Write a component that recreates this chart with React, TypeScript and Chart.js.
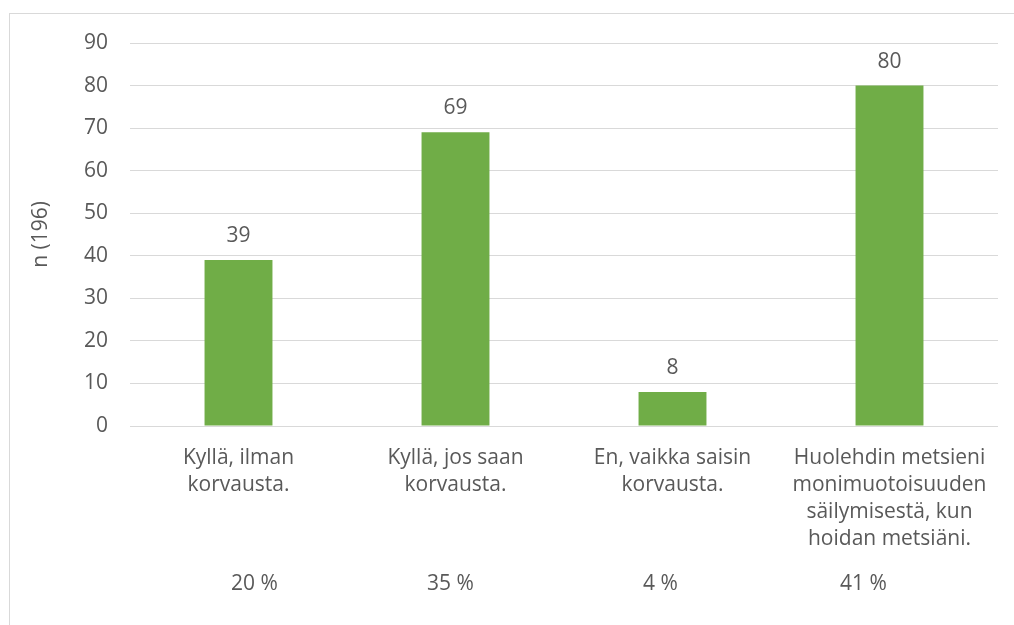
import React, { useEffect, useRef } from "react";
import { Chart, registerables } from "chart.js";

Chart.register(...registerables);

const categories: string[][] = [
  ["Kyllä, ilman", "korvausta."],
  ["Kyllä, jos saan", "korvausta."],
  ["En, vaikka saisin", "korvausta."],
  ["Huolehdin metsieni", "monimuotoisuuden", "säilymisestä, kun", "hoidan metsiäni."],
];
const counts: number[] = [39, 69, 8, 80];
const percentLabels: string[] = ["20 %", "35 %", "4 %", "41 %"];
const yTitle = "n (196)";

const TEXT = "#595959";
const FONT = "'Open Sans', sans-serif";
const FS = 21;

export default function App() {
  const ref = useRef<HTMLCanvasElement | null>(null);

  useEffect(() => {
    if (!ref.current) return;
    const pctOffsets = [16, -5, -12, -26];
    const labelPlugin = {
      id: "labels",
      afterDatasetsDraw(chart: any) {
        const ctx = chart.ctx;
        const meta = chart.getDatasetMeta(0);
        ctx.save();
        ctx.fillStyle = TEXT;
        ctx.font = `${FS}px ${FONT}`;
        ctx.textAlign = "center";
        ctx.textBaseline = "middle";
        meta.data.forEach((bar: any, i: number) => {
          ctx.fillText(String(counts[i]), bar.x, bar.y - 24);
        });
        const xs = chart.scales.x;
        percentLabels.forEach((p, i) => {
          ctx.fillText(p, xs.getPixelForValue(i) + pctOffsets[i], chart.chartArea.bottom + 158);
        });
        ctx.restore();
      },
    };

    const chart = new Chart(ref.current, {
      type: "bar",
      data: {
        labels: categories as any,
        datasets: [
          {
            data: counts,
            backgroundColor: "#70ad47",
            barPercentage: 0.313,
            categoryPercentage: 1,
          },
        ],
      },
      options: {
        animation: false,
        responsive: false,
        layout: { padding: { left: 28, right: 16, top: 43, bottom: 0 } },
        plugins: { legend: { display: false }, tooltip: { enabled: false } },
        scales: {
          x: {
            grid: { display: false },
            border: { display: false },
            ticks: {
              color: TEXT,
              font: { family: FONT, size: FS, lineHeight: 1.29 },
              maxRotation: 0,
              autoSkip: false,
              padding: 10,
            },
            afterFit: (s: any) => {
              s.height = 199;
            },
          },
          y: {
            min: 0,
            max: 90,
            ticks: {
              stepSize: 10,
              color: TEXT,
              font: { family: FONT, size: FS },
              padding: 22,
            },
            grid: { color: "#d9d9d9", lineWidth: 1, drawTicks: false },
            border: { display: false },
            title: {
              display: true,
              text: yTitle,
              color: TEXT,
              font: { family: FONT, size: FS },
              padding: 0,
            },
            afterFit: (s: any) => {
              s.width = 102;
            },
          },
        },
      },
      plugins: [labelPlugin],
    });
    return () => chart.destroy();
  }, []);

  return (
    <div style={{ position: "fixed", left: 0, top: 0, width: 1014, height: 625, background: "#fff", overflow: "hidden" }}>
      <div
        style={{
          position: "absolute",
          left: 9,
          top: 13,
          width: 1100,
          height: 700,
          border: "1px solid #d9d9d9",
        }}
      />
      <canvas ref={ref} width={1014} height={625} style={{ position: "absolute", left: 0, top: 0 }} />
    </div>
  );
}
